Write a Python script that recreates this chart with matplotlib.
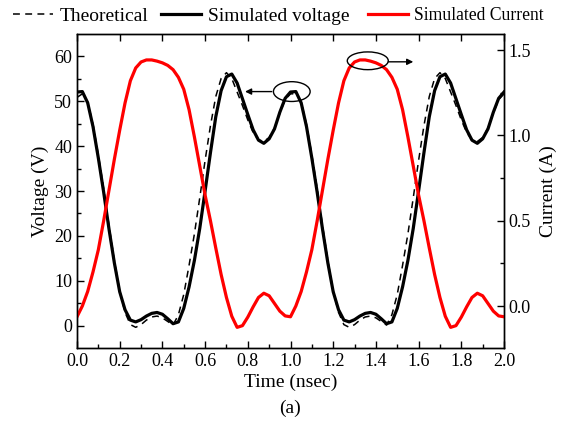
import matplotlib
matplotlib.use('Agg')
import matplotlib.pyplot as plt
from matplotlib.lines import Line2D
from matplotlib.patches import Ellipse
from matplotlib.ticker import MultipleLocator

plt.rcParams['font.family'] = ['Liberation Serif', 'DejaVu Serif']
plt.rcParams['mathtext.fontset'] = 'stix'

# time axis, nsec (step 0.025)
time_ns = [i * 0.025 for i in range(81)]

# simulated voltage (V), two periods
sim_voltage = [
    52.0, 52.1, 49.6, 44.3, 37.3, 29.7, 21.5, 14.0, 7.6, 3.6,
    1.3, 0.9, 1.4, 2.2, 2.8, 3.0, 2.6, 1.6, 0.5, 0.9,
    3.9, 8.7, 14.6, 21.7, 30.0, 38.5, 46.5, 52.3, 55.4, 56.0,
    54.0, 50.5, 47.0, 43.6, 41.3, 40.6, 41.6, 43.8, 47.5, 50.6,
    52.0, 52.1, 49.6, 44.3, 37.3, 29.7, 21.5, 14.0, 7.6, 3.6,
    1.3, 0.9, 1.4, 2.2, 2.8, 3.0, 2.6, 1.6, 0.5, 0.9,
    3.9, 8.7, 14.6, 21.7, 30.0, 38.5, 46.5, 52.3, 55.4, 56.0,
    54.0, 50.5, 47.0, 43.6, 41.3, 40.6, 41.6, 43.8, 47.5, 50.6,
    52.0,
]

# theoretical voltage (V)
theo_voltage = [
    50.8, 51.6, 49.8, 44.8, 38.0, 30.5, 22.3, 14.5, 7.8, 3.0,
    0.3, -0.3, 0.3, 1.3, 2.0, 2.2, 1.8, 1.0, 0.2, 2.5,
    7.0, 13.5, 20.5, 28.5, 36.8, 44.5, 51.0, 55.0, 56.3, 55.0,
    52.0, 49.0, 45.8, 43.0, 41.4, 41.0, 41.9, 44.0, 47.3, 50.3,
    51.6, 51.6, 49.8, 44.8, 38.0, 30.5, 22.3, 14.5, 7.8, 3.0,
    0.3, -0.3, 0.3, 1.3, 2.0, 2.2, 1.8, 1.0, 0.2, 2.5,
    7.0, 13.5, 20.5, 28.5, 36.8, 44.5, 51.0, 55.0, 56.3, 55.0,
    52.0, 49.0, 45.8, 43.0, 41.4, 41.0, 41.9, 44.0, 47.3, 50.3,
    51.6,
]

# simulated current (A)
sim_current = [
    -0.063, 0.000, 0.085, 0.200, 0.330, 0.500, 0.680, 0.860, 1.030, 1.190,
    1.320, 1.395, 1.430, 1.442, 1.442, 1.435, 1.425, 1.410, 1.385, 1.340,
    1.270, 1.150, 0.990, 0.820, 0.650, 0.500, 0.340, 0.185, 0.050, -0.060,
    -0.125, -0.115, -0.065, -0.005, 0.050, 0.075, 0.060, 0.015, -0.030, -0.058,
    -0.063, 0.000, 0.085, 0.200, 0.330, 0.500, 0.680, 0.860, 1.030, 1.190,
    1.320, 1.395, 1.430, 1.442, 1.442, 1.435, 1.425, 1.410, 1.385, 1.340,
    1.270, 1.150, 0.990, 0.820, 0.650, 0.500, 0.340, 0.185, 0.050, -0.060,
    -0.125, -0.115, -0.065, -0.005, 0.050, 0.075, 0.060, 0.015, -0.030, -0.058,
    -0.063,
]

fig = plt.figure(figsize=(5.68, 4.26), dpi=100)
ax = fig.add_axes([77 / 568, 1 - 348 / 426, 427 / 568, 314 / 426])
ax2 = ax.twinx()

dash_style = (0, (4.5, 3.5))
ax.plot(time_ns, theo_voltage, color='black', lw=1.1, linestyle=dash_style)
ax.plot(time_ns, sim_voltage, color='black', lw=2.3)
ax2.plot(time_ns, sim_current, color='#ff0000', lw=2.3)

ax.set_xlim(0, 2.0)
ax.set_ylim(-4.9, 64.9)
ax2.set_ylim(-0.246, 1.594)

ax.xaxis.set_major_locator(MultipleLocator(0.2))
ax.xaxis.set_minor_locator(MultipleLocator(0.1))
ax.yaxis.set_major_locator(MultipleLocator(10))
ax.yaxis.set_minor_locator(MultipleLocator(5))
ax2.yaxis.set_major_locator(MultipleLocator(0.5))
ax2.yaxis.set_minor_locator(MultipleLocator(0.25))
ax.xaxis.set_major_formatter(plt.FormatStrFormatter('%.1f'))
ax2.yaxis.set_major_formatter(plt.FormatStrFormatter('%.1f'))

ax.tick_params(which='both', direction='in', labelsize=13, width=1.0, right=False)
ax.tick_params(which='major', length=5, top=True)
ax.tick_params(which='minor', length=3, top=False)
ax2.tick_params(which='both', direction='in', labelsize=13, width=1.0)
ax2.tick_params(which='major', length=5)
ax2.tick_params(which='minor', length=3)
for a in (ax, ax2):
    for s in a.spines.values():
        s.set_linewidth(1.0)

ax.set_xlabel('Time (nsec)', fontsize=14, labelpad=3)
ax.set_ylabel('Voltage (V)', fontsize=14, labelpad=4)
ax2.set_ylabel('Current (A)', fontsize=14, labelpad=6)
fig.text(290 / 568, 1 - 408 / 426, '(a)', fontsize=14, ha='center', va='center')

# annotations: ellipses with arrows pointing to the matching axis
ax.add_patch(Ellipse((1.006, 52.1), 0.172, 4.4, fill=False, ec='black', lw=1.0))
ax.annotate('', xy=(0.787, 52.1), xytext=(0.912, 52.1),
            arrowprops=dict(arrowstyle='-|>', color='black', lw=1.0, mutation_scale=9,
                            shrinkA=0, shrinkB=0))
ax2.add_patch(Ellipse((1.362, 1.437), 0.192, 0.104, fill=False, ec='black', lw=1.0, zorder=3))
ax2.annotate('', xy=(1.575, 1.431), xytext=(1.458, 1.431),
             arrowprops=dict(arrowstyle='-|>', color='black', lw=1.0, mutation_scale=9,
                             shrinkA=0, shrinkB=0))

# legend entries, laid out along the top
entries = [
    (Line2D([], [], color='black', lw=1.1, linestyle=dash_style), 'Theoretical', 14, 13),
    (Line2D([], [], color='black', lw=2.3), 'Simulated voltage', 14, 161),
    (Line2D([], [], color='#ff0000', lw=2.3), 'Simulated Current', 12.7, 368),
]
for handle, label, fs, x0 in entries:
    hl = 40 / (fs * 100 / 72)
    fig.legend([handle], [label], loc='center left', bbox_to_anchor=(x0 / 568, 1 - 16 / 426),
               frameon=False, fontsize=fs, handlelength=hl, handletextpad=0.35,
               borderpad=0, borderaxespad=0)

fig.savefig('out.png', dpi=100)
